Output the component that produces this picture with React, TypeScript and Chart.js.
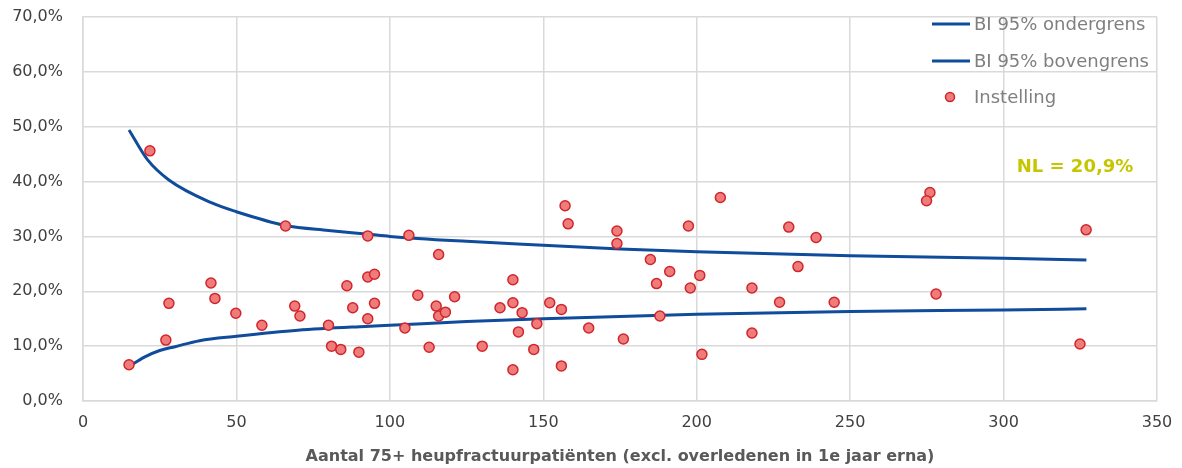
import React, { useEffect, useRef } from "react";
import { Chart, registerables } from "chart.js";

Chart.register(...registerables);

// Instellingen (institutions): x = aantal patiënten, y = percentage
const pointX = [15, 21.8, 27, 28, 41.7, 43, 49.8, 58.3, 66, 69, 70.7, 80, 81, 84, 86, 87.9, 89.9, 92.8, 92.8, 92.8, 95, 95,
  106.2, 115.9, 104.9, 109.1, 112.8, 115.1, 115.9, 118.1, 121.1, 130.1, 135.9, 140.1, 140.1, 140.1, 141.9, 143.1, 146.9, 147.9,
  152.1, 155.9, 155.9, 157.1, 158.1, 164.8, 174, 174, 176.1, 184.9, 186.9, 188, 191.2, 197.3, 197.9, 201, 201.7, 207.7,
  218, 218, 227, 230, 238.9, 233, 244.8, 276, 274.9, 278, 324.9, 326.9];
const pointY = [6.6, 45.6, 11.1, 17.8, 21.5, 18.7, 16.0, 13.8, 31.9, 17.3, 15.5, 13.8, 10.0, 9.4, 21.0, 17.0, 8.9, 30.1, 22.6, 15.0, 23.1, 17.8,
  30.2, 26.7, 13.3, 19.3, 9.8, 17.3, 15.5, 16.2, 19.0, 10.0, 17.0, 22.1, 17.9, 5.7, 12.6, 16.1, 9.4, 14.1,
  17.9, 16.7, 6.4, 35.6, 32.3, 13.3, 31.0, 28.7, 11.3, 25.8, 21.4, 15.5, 23.6, 31.9, 20.6, 22.9, 8.5, 37.1,
  20.6, 12.4, 18.0, 31.7, 29.8, 24.5, 18.0, 38.0, 36.5, 19.5, 10.4, 31.2];

// Betrouwbaarheidsintervallen
const lowerX = [15, 20, 25, 30, 38, 50, 70, 92, 100, 125, 150, 175, 200, 250, 300, 327];
const lowerY = [6.3, 8.0, 9.2, 9.9, 11.0, 11.8, 12.9, 13.6, 13.8, 14.5, 15.0, 15.4, 15.8, 16.3, 16.6, 16.8];
const upperX = [15, 21, 28, 42, 50, 66, 80, 93, 100, 125, 150, 175, 200, 250, 300, 327];
const upperY = [49.4, 44.0, 40.3, 36.1, 34.5, 32.0, 31.1, 30.4, 30.0, 29.1, 28.4, 27.7, 27.2, 26.5, 26.0, 25.7];

const legendLabels = ["BI 95% ondergrens", "BI 95% bovengrens", "Instelling"];
const nlLabel = "NL = 20,9%";
const xTitle = "Aantal 75+ heupfractuurpatiënten (excl. overledenen in 1e jaar erna)";

const BLUE = "#0f4c9b";
const PT_FILL = "#ef7b7b";
const PT_BORDER = "#d0262b";
const GRID = "#d9d9d9";
const FONT = "'DejaVu Sans', sans-serif";

const legendPlugin = {
  id: "customLegend",
  afterDraw(chart: any) {
    const ctx = chart.ctx;
    ctx.save();
    ctx.font = `18px ${FONT}`;
    ctx.fillStyle = "#7f7f7f";
    ctx.textBaseline = "middle";
    ctx.textAlign = "left";
    const ys = [24, 61, 97];
    for (let i = 0; i < 3; i++) {
      const y = ys[i];
      if (i < 2) {
        ctx.strokeStyle = BLUE;
        ctx.lineWidth = 3;
        ctx.beginPath();
        ctx.moveTo(932, y);
        ctx.lineTo(970, y);
        ctx.stroke();
      } else {
        ctx.beginPath();
        ctx.arc(950, y, 4.5, 0, Math.PI * 2);
        ctx.fillStyle = PT_FILL;
        ctx.fill();
        ctx.lineWidth = 1.5;
        ctx.strokeStyle = PT_BORDER;
        ctx.stroke();
        ctx.fillStyle = "#7f7f7f";
      }
      ctx.fillText(legendLabels[i], 974, y + 1);
    }
    ctx.font = `bold 18px ${FONT}`;
    ctx.fillStyle = "#c6c600";
    ctx.textAlign = "center";
    ctx.fillText(nlLabel, 1075, 167);
    ctx.restore();
  },
};

export default function App() {
  const ref = useRef<HTMLCanvasElement | null>(null);
  useEffect(() => {
    document.body.style.margin = "0";
    const canvas = ref.current!;
    const chart = new Chart(canvas, {
      type: "scatter",
      data: {
        datasets: [
          {
            label: legendLabels[2],
            data: pointX.map((x, i) => ({ x, y: pointY[i] })),
            pointRadius: 5,
            pointBackgroundColor: PT_FILL,
            pointBorderColor: PT_BORDER,
            pointBorderWidth: 1.5,
            order: 0,
          },
          {
            label: legendLabels[0],
            data: lowerX.map((x, i) => ({ x, y: lowerY[i] })),
            showLine: true,
            pointRadius: 0,
            borderColor: BLUE,
            borderWidth: 3,
            cubicInterpolationMode: "monotone",
            order: 1,
          },
          {
            label: legendLabels[1],
            data: upperX.map((x, i) => ({ x, y: upperY[i] })),
            showLine: true,
            pointRadius: 0,
            borderColor: BLUE,
            borderWidth: 3,
            cubicInterpolationMode: "monotone",
            order: 2,
          },
        ],
      },
      options: {
        responsive: false,
        animation: false,
        devicePixelRatio: 1,
        layout: { padding: { left: 0, right: 25, top: 17, bottom: 0 } },
        plugins: { legend: { display: false }, tooltip: { enabled: false } },
        scales: {
          x: {
            type: "linear",
            min: 0,
            max: 350,
            afterFit: (s: any) => { s.height = 67; s.paddingLeft = 0; s.paddingRight = 0; },
            ticks: { stepSize: 50, padding: 12, color: "#404040", font: { family: FONT, size: 16 } },
            grid: { color: GRID, lineWidth: 1.5, drawTicks: false },
            border: { color: GRID, width: 1.5 },
            title: {
              display: true,
              text: xTitle,
              color: "#595959",
              font: { family: FONT, size: 16, weight: "bold" },
              padding: { top: 0, bottom: 2 },
            },
          },
          y: {
            type: "linear",
            min: 0,
            max: 70,
            afterFit: (s: any) => { s.width = 83; s.paddingTop = 0; s.paddingBottom = 0; },
            ticks: {
              stepSize: 10,
              padding: 20,
              color: "#404040",
              font: { family: FONT, size: 16 },
              callback: (v: any) => Number(v).toFixed(1).replace(".", ",") + "%",
            },
            grid: { color: GRID, lineWidth: 1.5, drawTicks: false },
            border: { color: GRID, width: 1.5 },
          },
        },
      },
      plugins: [legendPlugin],
    });
    return () => chart.destroy();
  }, []);
  return (
    <div style={{ width: 1182, height: 468 }}>
      <canvas ref={ref} width={1182} height={468} style={{ width: 1182, height: 468, display: "block" }} />
    </div>
  );
}
